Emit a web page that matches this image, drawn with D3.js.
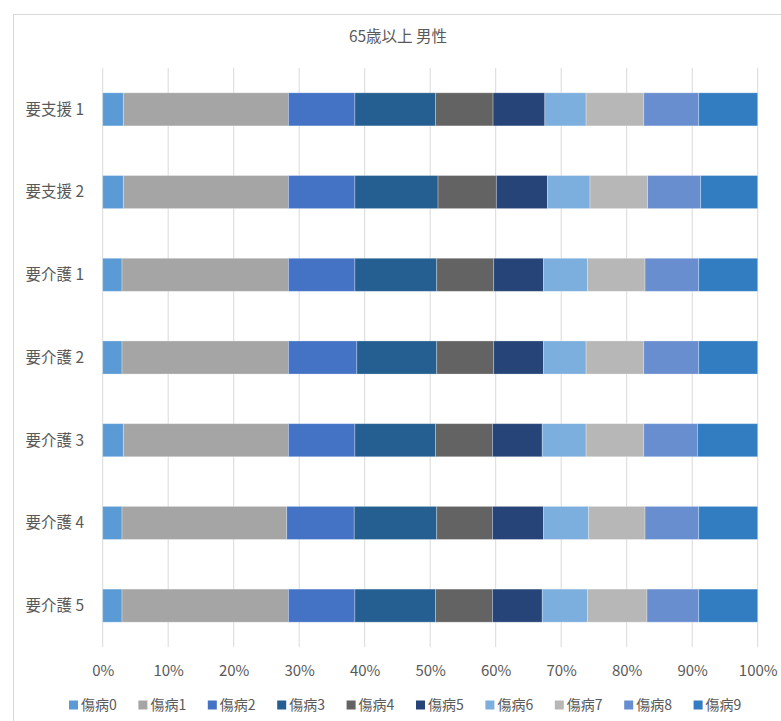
<!DOCTYPE html>
<html>
<head>
<meta charset="utf-8">
<script src="https://cdn.jsdelivr.net/npm/d3@7"></script>
<style>
  body { margin: 0; background: #fff; }
  svg { display: block; }
  text { font-family: "Noto Sans CJK JP", "Noto Sans", sans-serif; fill: #595959; }
</style>
</head>
<body>
<svg id="chart" width="781" height="721"></svg>
<script>
const title = "65歳以上 男性";
const categories = ["要支援 1", "要支援 2", "要介護 1", "要介護 2", "要介護 3", "要介護 4", "要介護 5"];
const seriesNames = ["傷病0", "傷病1", "傷病2", "傷病3", "傷病4", "傷病5", "傷病6", "傷病7", "傷病8", "傷病9"];
const seriesColors = ["#5B9BD5", "#A5A5A5", "#4472C4", "#255E91", "#636363", "#264478", "#7CAFDD", "#B7B7B7", "#698ED0", "#327DC2"];
// values per category (percent), series 0..9
const v_shien1 = [3.15, 25.2, 10.15, 12.3, 8.8, 7.9, 6.3, 8.8, 8.4, 9.0];
const v_shien2 = [3.15, 25.2, 10.15, 12.7, 8.9, 7.8, 6.5, 8.8, 8.1, 8.7];
const v_kaigo1 = [2.95, 25.4, 10.15, 12.5, 8.7, 7.6, 6.7, 8.8, 8.2, 9.0];
const v_kaigo2 = [2.95, 25.4, 10.45, 12.2, 8.7, 7.6, 6.5, 8.8, 8.4, 9.0];
const v_kaigo3 = [3.15, 25.2, 10.15, 12.3, 8.7, 7.6, 6.7, 8.8, 8.2, 9.2];
const v_kaigo4 = [2.95, 25.15, 10.3, 12.6, 8.5, 7.8, 6.9, 8.6, 8.2, 9.0];
const v_kaigo5 = [2.95, 25.4, 10.15, 12.3, 8.7, 7.6, 6.9, 9.1, 7.9, 9.0];
const xTicks = [0, 10, 20, 30, 40, 50, 60, 70, 80, 90, 100];

const valueRows = [v_shien1, v_shien2, v_kaigo1, v_kaigo2, v_kaigo3, v_kaigo4, v_kaigo5];
const table = categories.map((c, i) => {
  const row = { cat: c };
  const total = d3.sum(valueRows[i]);
  seriesNames.forEach((s, j) => row[s] = valueRows[i][j] / total);
  return row;
});

const svg = d3.select("#chart");
const plot = { left: 102.7, right: 757.7, top: 68, bottom: 647 };

// chart border
svg.append("rect").attr("x", 13.5).attr("y", 14.5).attr("width", 800).attr("height", 720)
  .attr("fill", "#fff").attr("stroke", "#d9d9d9").attr("stroke-width", 1);

const x = d3.scaleLinear().domain([0, 1]).range([plot.left, plot.right]);
const y = d3.scaleBand().domain(categories).range([plot.top, plot.bottom]).paddingInner(0.6).paddingOuter(0.3);

// gridlines
svg.append("g").selectAll("line").data(xTicks).join("line")
  .attr("x1", d => x(d / 100)).attr("x2", d => x(d / 100))
  .attr("y1", plot.top).attr("y2", plot.bottom)
  .attr("stroke", "#d9d9d9").attr("stroke-width", 1);

// title
svg.append("text").attr("x", 398).attr("y", 42).attr("text-anchor", "middle")
  .attr("font-size", 15.5).text(title);

const stack = d3.stack().keys(seriesNames);
const layers = stack(table);

svg.append("g").selectAll("g").data(layers).join("g")
  .attr("fill", (d, i) => seriesColors[i])
  .selectAll("rect").data(d => d).join("rect")
  .attr("x", d => x(d[0]))
  .attr("width", d => x(d[1]) - x(d[0]))
  .attr("y", d => y(d.data.cat))
  .attr("height", y.bandwidth())
  .attr("stroke", "#ffffff").attr("stroke-opacity", 0.35).attr("stroke-width", 0.8);

// y axis labels
svg.append("g").selectAll("text").data(categories).join("text")
  .attr("x", 84).attr("y", d => y(d) + y.bandwidth() / 2)
  .attr("dy", "0.35em").attr("text-anchor", "end").attr("font-size", 15.5)
  .text(d => d);

// x axis
const xAxis = d3.axisBottom(x).tickValues(xTicks.map(d => d / 100)).tickFormat(d3.format(".0%")).tickSize(0).tickPadding(0);
const gx = svg.append("g").attr("transform", `translate(0,${plot.bottom})`).call(xAxis);
gx.select(".domain").remove();
gx.selectAll("text").attr("y", 24).attr("dy", "0.35em").attr("font-size", 15)
  .attr("font-family", "\"Noto Sans CJK JP\", \"Noto Sans\", sans-serif").attr("fill", "#595959");

// legend
const legend = svg.append("g").selectAll("g").data(seriesNames).join("g")
  .attr("transform", (d, i) => `translate(${69 + i * 69.4},705)`);
legend.append("rect").attr("x", 0).attr("y", -4.5).attr("width", 9).attr("height", 9)
  .attr("fill", (d, i) => seriesColors[i]);
legend.append("text").attr("x", 12).attr("y", 0).attr("dy", "0.35em")
  .attr("font-size", 14).text(d => d);
</script>
</body>
</html>
